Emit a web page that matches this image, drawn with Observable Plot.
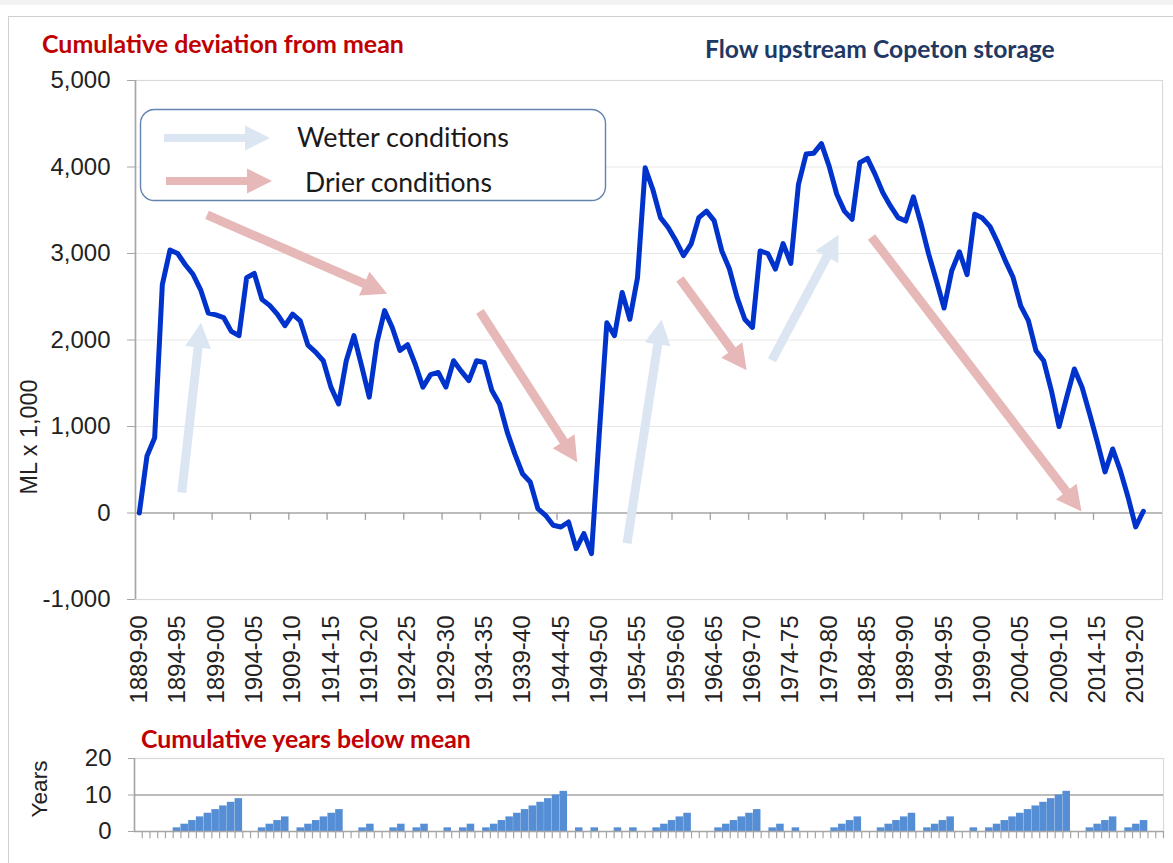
<!DOCTYPE html>
<html><head><meta charset="utf-8">
<script src="https://cdn.jsdelivr.net/npm/d3@7"></script>
<script src="https://cdn.jsdelivr.net/npm/@observablehq/plot@0.6"></script>
<style>
html,body{margin:0;padding:0;background:#fff;}
#wrap{position:relative;width:1173px;height:863px;overflow:hidden;background:#fff;}
#band{position:absolute;left:0;top:0;width:1173px;height:5px;background:#f2f2f2;}
#border{position:absolute;left:8px;top:16px;width:1165px;height:847px;border-left:1px solid #d0d0d0;border-top:1px solid #d0d0d0;}
#main{position:absolute;left:0;top:0;}
#bottom{position:absolute;left:0;top:710px;}
#overlay{position:absolute;left:0;top:0;}
</style></head><body>
<div id="wrap"><div id="band"></div><div id="border"></div><div id="main"></div><div id="bottom"></div>
<svg id="overlay" width="1173" height="863" xmlns="http://www.w3.org/2000/svg"></svg></div>
<script>
// ---- Data ----
const firstPeriod = "1889-90";
// Cumulative deviation from mean (ML x 1,000), one value per water year from 1889-90
const deviation = [
  0, 660, 870, 2640, 3040, 3000, 2870, 2760, 2580, 2310,
  2290, 2260, 2100, 2050, 2720, 2770, 2470, 2400, 2300, 2165,
  2300, 2220, 1940, 1860, 1760, 1455, 1260, 1760, 2050, 1700,
  1340, 1970, 2340, 2145, 1880, 1945, 1720, 1455, 1600, 1625,
  1455, 1760, 1640, 1530, 1760, 1740, 1415, 1260, 935, 680,
  454, 358, 50, -27, -142, -162, -104, -412, -238, -470,
  900, 2200, 2050, 2550, 2240, 2720, 3990, 3740, 3415, 3300,
  3150, 2975, 3110, 3415, 3490, 3380, 3030, 2820, 2490, 2240,
  2145, 3030, 3000, 2820, 3115, 2885, 3800, 4150, 4160, 4270,
  4010, 3685, 3490, 3395, 4050, 4100, 3915, 3705, 3550, 3415,
  3375, 3655, 3340, 2990, 2685, 2370, 2800, 3020, 2755, 3455,
  3410, 3310, 3125, 2915, 2725, 2395, 2225, 1875, 1760, 1415,
  1000, 1340, 1665, 1455, 1145, 820, 475, 740, 490, 185,
  -160, 20
];
// Cumulative years below mean
const yearsBelow = [
  0, 0, 0, 0, 0, 1, 2, 3, 4, 5,
  6, 7, 8, 9, 0, 0, 1, 2, 3, 4,
  0, 1, 2, 3, 4, 5, 6, 0, 0, 1,
  2, 0, 0, 1, 2, 0, 1, 2, 0, 0,
  1, 0, 1, 2, 0, 1, 2, 3, 4, 5,
  6, 7, 8, 9, 10, 11, 0, 1, 0, 1,
  0, 0, 1, 0, 1, 0, 0, 1, 2, 3,
  4, 5, 0, 0, 0, 1, 2, 3, 4, 5,
  6, 0, 1, 2, 0, 1, 0, 0, 0, 0,
  1, 2, 3, 4, 0, 0, 1, 2, 3, 4,
  5, 0, 1, 2, 3, 4, 0, 0, 1, 0,
  1, 2, 3, 4, 5, 6, 7, 8, 9, 10,
  11, 0, 0, 1, 2, 3, 4, 0, 1, 2,
  3, 0
];
const tickLabels = ["1889-90","1894-95","1899-00","1904-05","1909-10","1914-15","1919-20",
  "1924-25","1929-30","1934-35","1939-40","1944-45","1949-50","1954-55","1959-60","1964-65",
  "1969-70","1974-75","1979-80","1984-85","1989-90","1994-95","1999-00","2004-05","2009-10",
  "2014-15","2019-20"];
const yTicks = [-1000, 0, 1000, 2000, 3000, 4000, 5000];
const yearTicks = [0, 10, 20];
// Trend arrows (category index, ML x 1,000)
const arrowKind = ["Wetter","Drier","Drier","Wetter","Drier","Wetter","Drier"];
const arrowFrom = [[5.6,230],[8.9,3440],[44.5,2325],[63.7,-355],[70.6,2700],[82.6,1760],[95.6,3185]];
const arrowTo   = [[8.1,2195],[32.4,2530],[57.2,580],[68.2,2230],[79.3,1645],[91.3,3210],[123.0,12]];
const titleMain = "Cumulative deviation from mean";
const titleRight = "Flow upstream Copeton storage";
const titleBottom = "Cumulative years below mean";
const legendItems = ["Wetter conditions","Drier conditions"];
const colors = {Wetter:"#dce6f2", Drier:"#e6b9b8"};

// ---- helpers ----
const fmt = d3.formatLocale({decimal:".", thousands:",", grouping:[3], currency:["$",""], minus:"-"}).format(",");
function arrowPath(x1,y1,x2,y2,w,L,H){
  const dx=x2-x1, dy=y2-y1, len=Math.hypot(dx,dy);
  const ux=dx/len, uy=dy/len, nx=-uy, ny=ux;
  const bx=x2-ux*L, by=y2-uy*L;
  return `M${x1+nx*w/2},${y1+ny*w/2}L${bx+nx*w/2},${by+ny*w/2}L${bx+nx*H/2},${by+ny*H/2}L${x2},${y2}L${bx-nx*H/2},${by-ny*H/2}L${bx-nx*w/2},${by-ny*w/2}L${x1-nx*w/2},${y1-ny*w/2}Z`;
}
const arrows = arrowKind.map((k,j)=>({kind:k, x1:arrowFrom[j][0], y1:arrowFrom[j][1], x2:arrowTo[j][0], y2:arrowTo[j][1]}));
const arrowMark = (index, scales) => {
  const g = d3.create("svg:g");
  for (const a of arrows) {
    g.append("path")
      .attr("d", arrowPath(scales.x(a.x1), scales.y(a.y1), scales.x(a.x2), scales.y(a.y2), 9, 25, 26))
      .attr("fill", colors[a.kind]);
  }
  return g.node();
};

const rows = deviation.map((v,i)=>({i, v}));
const yrows = yearsBelow.map((n,i)=>({i, n}));
const labelIdx = tickLabels.map((_,k)=>k*5);
const tickPos = d3.range(5, 131, 5).map(b=>b-0.5);
const font = "'Liberation Sans', Arial, sans-serif";

const main = Plot.plot({
  width:1173, height:710, marginLeft:135, marginRight:11, marginTop:80, marginBottom:111,
  x:{type:"linear", domain:[-0.5,133.5]},
  y:{domain:[-1000,5000]},
  style:{background:"transparent", fontFamily:font, color:"#222", overflow:"visible"},
  marks:[
    Plot.ruleY([1000,2000,3000,4000], {stroke:"#e8e8e8", strokeWidth:1.2}),
    Plot.frame({stroke:"#d9d9d9", strokeWidth:1.2}),
    Plot.ruleY([0], {stroke:"#a6a6a6", strokeWidth:1.6}),
    Plot.ruleX([-0.5], {stroke:"#a6a6a6", strokeWidth:1.6}),
    Plot.ruleX(tickPos, {x:d=>d, y1:0, y2:-85, stroke:"#a6a6a6", strokeWidth:1.4}),
    Plot.axisY({ticks:yTicks, tickFormat:fmt, tickSize:8, tickPadding:17, fontSize:24, stroke:"#a6a6a6", fill:"#222", label:null}),
    Plot.axisX({ticks:labelIdx, tickFormat:d=>tickLabels[Math.round(d/5)], tickRotate:-90, tickSize:0, tickPadding:16, fontSize:24, fill:"#222", label:null}),
    arrowMark,
    Plot.line(rows, {x:"i", y:"v", stroke:"#0033cc", strokeWidth:5, strokeLinejoin:"round", strokeLinecap:"round"})
  ]
});
document.getElementById("main").appendChild(main);

const bottom = Plot.plot({
  width:1173, height:153, marginLeft:134, marginRight:10, marginTop:48, marginBottom:32,
  x:{type:"linear", domain:[-0.5,132.5], axis:null},
  y:{domain:[0,20]},
  style:{background:"transparent", fontFamily:font, color:"#222", overflow:"visible"},
  marks:[
    Plot.frame({stroke:"#d9d9d9", strokeWidth:1.2}),
    Plot.ruleY([10], {stroke:"#a6a6a6", strokeWidth:1.6}),
    Plot.rectY(yrows, {x1:d=>d.i-0.5, x2:d=>d.i+0.5, y:"n", fill:"#558ed5", insetRight:0.2}),
    Plot.ruleY([0], {stroke:"#a6a6a6", strokeWidth:1.6}),
    Plot.ruleX([-0.5], {stroke:"#a6a6a6", strokeWidth:1.6}),
    Plot.ruleX(d3.range(1,134).map(b=>b-0.5), {x:d=>d, y1:0, y2:-2, stroke:"#a6a6a6", strokeWidth:1.2}),
    Plot.axisY({ticks:yearTicks, tickSize:6, tickPadding:17, fontSize:24, stroke:"#a6a6a6", fill:"#222", label:null})
  ]
});
document.getElementById("bottom").appendChild(bottom);

// ---- overlay: titles, legend, axis titles ----
const ov = d3.select("#overlay");
const fits = [];
function addText(txt, o){
  const t = ov.append("text").text(txt)
    .attr("font-family", o.family).attr("font-weight", o.weight||"normal")
    .attr("font-size", o.size).attr("fill", o.fill||"#222");
  if (o.rotate) {
    t.attr("transform", `translate(${o.x},${o.y}) rotate(-90)`).attr("text-anchor","middle").attr("dy","0.35em");
  } else {
    t.attr("x", o.x).attr("y", o.y);
  }
  fits.push([t.node(), o.size, o.target]);
}
addText(titleMain, {x:42, y:53, size:24, family:"Lato", weight:"bold", fill:"#c00000", target:362});
addText(titleRight, {x:705, y:58, size:24, family:"Lato", weight:"bold", fill:"#1f3864", target:350});
addText(titleBottom, {x:141, y:748, size:24, family:"Lato", weight:"bold", fill:"#c00000", target:330});
addText("ML x 1,000", {x:29, y:437, size:24, family:font, rotate:true, target:115});
addText("Years", {x:39, y:789, size:24, family:font, rotate:true, target:57});

// legend box
ov.append("rect").attr("x",140.5).attr("y",109.5).attr("width",465).attr("height",91).attr("rx",14)
  .attr("fill","#fff").attr("stroke","#6282b0").attr("stroke-width",1.4);
ov.append("path").attr("d", arrowPath(164,138,270,138,8,25,25)).attr("fill", colors.Wetter);
ov.append("path").attr("d", arrowPath(166,181,272,181,8,25,25)).attr("fill", colors.Drier);
addText(legendItems[0], {x:297, y:146.5, size:24, family:"Lato", fill:"#1a1a1a", target:212});
addText(legendItems[1], {x:305, y:191.5, size:24, family:"Lato", fill:"#1a1a1a", target:187});

function fitAll(){
  for (const [el, size, target] of fits) {
    el.setAttribute("font-size", size);
    const len = el.getComputedTextLength();
    if (len > 0) el.setAttribute("font-size", (size*target/len).toFixed(2));
  }
}
fitAll();
if (document.fonts && document.fonts.ready) document.fonts.ready.then(fitAll);
</script></body></html>
